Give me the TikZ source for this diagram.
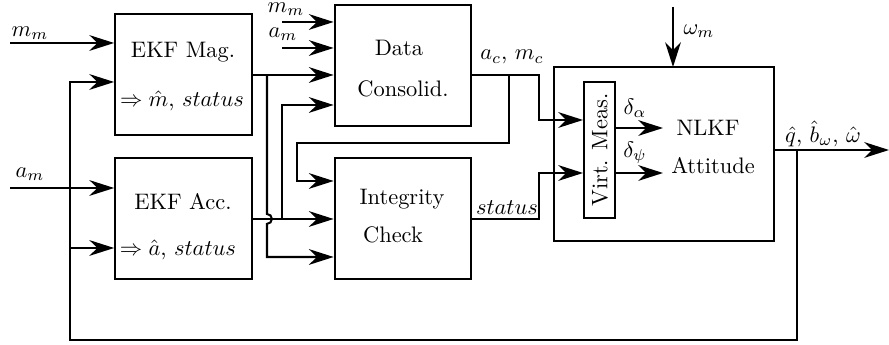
\documentclass[tikz,border=0pt]{standalone}
\usetikzlibrary{arrows.meta}
\begin{document}
\begin{tikzpicture}[x=0.446pt,y=-0.446pt,line width=0.9pt,
  >={Stealth[length=11pt,width=7pt,inset=3.5pt]},
  box/.style={draw,inner sep=0pt,minimum width=61pt,minimum height=54pt},
  lbl/.style={inner sep=0pt,anchor=center}]
\useasboundingbox (0,0) rectangle (889,345);
% boxes
\node[box] (mag) at (183.5,74.5) {};
\node[box] (acc) at (183.5,218.5) {};
\node[box] (dc) at (403,65.5) {};
\node[box] (ic) at (403,218.5) {};
\node[draw,inner sep=0pt,minimum width=98.1pt,minimum height=77.6pt] (nl) at (664,154) {};
\node[draw,inner sep=0pt,minimum width=13.8pt,minimum height=60.7pt] (vm) at (599.5,150) {};
% box texts
\node[lbl] (t1) at (183,52) {EKF Mag.};
\node[lbl] (t2) at (182,101) {$\Rightarrow \hat{m}$, $status$};
\node[lbl] (t3) at (183,202) {EKF Acc.};
\node[lbl] (t4) at (178,250) {$\Rightarrow \hat{a}$, $status$};
\node[lbl] (t5) at (399,48) {Data};
\node[lbl] (t6) at (403,89) {Consolid.};
\node[lbl] (t7) at (402,199) {Integrity};
\node[lbl] (t8) at (393,235) {Check};
\node[lbl] (t9) at (708,128) {NLKF};
\node[lbl] (t10) at (713,166) {Attitude};
\node[lbl,rotate=90] (t11) at (600,150) {Virt. Meas.};
% coordinates
\coordinate (mmin) at (10,43);
\coordinate (amin) at (10,188);
\coordinate (fbA) at (70,82);
\coordinate (fbB) at (70,248);
\coordinate (fbC) at (70,340);
\coordinate (fbD) at (797,340);
\coordinate (fbE) at (797,150);
\coordinate (mm2) at (282,22);
\coordinate (am2) at (282,48);
\coordinate (j1) at (267,75);
\coordinate (j1a) at (267,214);
\coordinate (j1b) at (267,257);
\coordinate (j2) at (282,219);
\coordinate (j2a) at (282,105);
\coordinate (dco) at (471,75);
\coordinate (k1) at (539,75);
\coordinate (k2) at (539,120);
\coordinate (b1) at (509,75);
\coordinate (b2) at (509,143);
\coordinate (b3) at (297,143);
\coordinate (b4) at (297,181);
\coordinate (ico) at (471,219);
\coordinate (s1) at (539,219);
\coordinate (s2) at (539,173);
\coordinate (d1) at (615,128);
\coordinate (d1e) at (663,128);
\coordinate (d2) at (615,173);
\coordinate (d2e) at (663,173);
\coordinate (w0) at (673,7);
\coordinate (w1) at (673,67);
\coordinate (q0) at (774,150);
\coordinate (q1) at (889,150);
% connectors
\draw[->] (mmin) -- (mag.west |- mmin);
\draw[->] (amin) -- (acc.west |- amin);
\draw[->] (fbE) -- (fbD) -- (fbC) -- (fbA) -- (mag.west |- fbA);
\draw[->] (fbB) -- (acc.west |- fbB);
\draw[->] (mm2) -- (dc.west |- mm2);
\draw[->] (am2) -- (dc.west |- am2);
\draw[->] (mag.east |- j1) -- (dc.west |- j1);
\draw[->] (j1) -- (j1a) arc[start angle=90,end angle=-90,radius=2.2pt] -- (j1b) -- (ic.west |- j1b);
\draw[->] (acc.east |- j2) -- (ic.west |- j2);
\draw[->] (j2) -- (j2a) -- (dc.west |- j2a);
\draw[->] (dco) -- (k1) -- (k2) -- (vm.west |- k2);
\draw[->] (b1) -- (b2) -- (b3) -- (b4) -- (ic.west |- b4);
\draw[->] (ico) -- (s1) -- (s2) -- (vm.west |- s2);
\draw[->] (d1) -- (d1e);
\draw[->] (d2) -- (d2e);
\draw[->] (w0) -- (w1);
\draw[->] (q0) -- (q1);
% labels
\node[lbl] (l1) at (30,33) {$m_m$};
\node[lbl] (l2) at (30,174) {$a_m$};
\node[lbl] (l3) at (286,9) {$m_m$};
\node[lbl] (l4) at (283,34) {$a_m$};
\node[lbl] (l5) at (512,57) {$a_c$, $m_c$};
\node[lbl] (l6) at (507,208) {$status$};
\node[lbl] (l7) at (699,31) {$\omega_m$};
\node[lbl] (l8) at (635,108) {$\delta_\alpha$};
\node[lbl] (l9) at (635,153) {$\delta_\psi$};
\node[lbl] (l10) at (823,134) {$\hat{q}$, $\hat{b}_\omega$, $\hat{\omega}$};
\end{tikzpicture}
\end{document}
